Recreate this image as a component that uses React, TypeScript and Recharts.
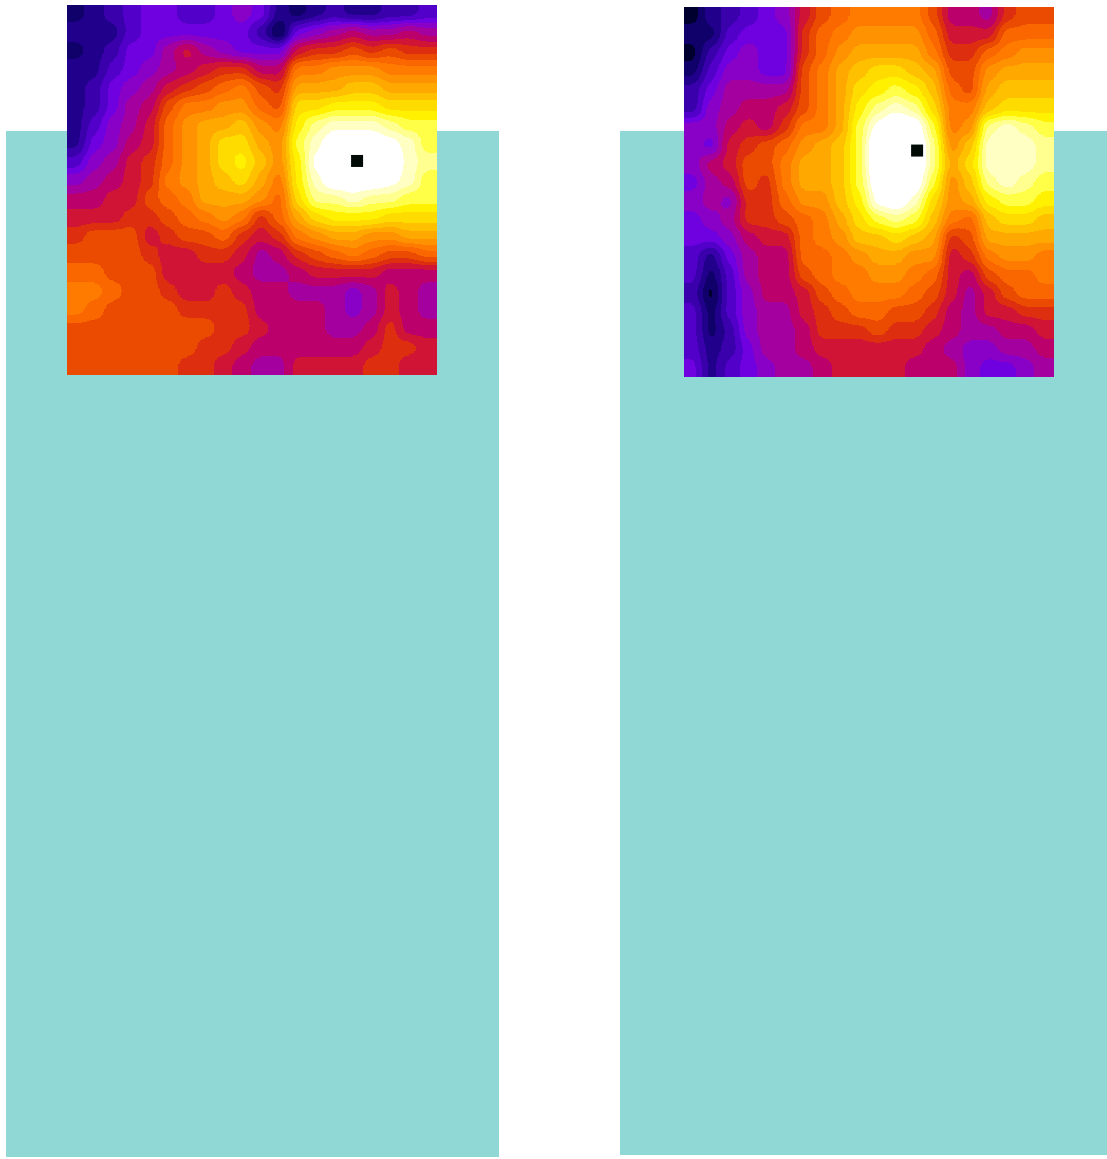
import React from 'react';
import { ScatterChart, Scatter, XAxis, YAxis } from 'recharts';

// band index per grid cell (0 = darkest, 22 and up = white)
const leftRows: number[][] = [
  [1, 2, 3, 4, 5, 5, 4, 4, 5, 6, 5, 2, 1, 2, 3, 2, 2, 3, 3, 4],
  [2, 2, 2, 4, 5, 5, 5, 5, 5, 5, 3, 0, 5, 6, 7, 8, 7, 7, 8, 7],
  [1, 2, 3, 5, 5, 7, 9, 7, 6, 5, 5, 5, 9, 10, 10, 11, 10, 11, 10, 10],
  [2, 2, 4, 5, 6, 7, 8, 9, 10, 10, 8, 8, 13, 13, 14, 14, 14, 13, 13, 13],
  [2, 3, 5, 6, 7, 9, 10, 11, 12, 13, 11, 10, 15, 15, 15, 16, 16, 15, 15, 15],
  [2, 3, 5, 7, 8, 11, 13, 13, 14, 14, 12, 11, 17, 17, 18, 18, 18, 17, 17, 17],
  [2, 4, 6, 7, 9, 12, 14, 15, 15, 16, 14, 13, 18, 20, 21, 21, 21, 20, 19, 19],
  [2, 5, 6, 8, 9, 12, 14, 15, 17, 17, 15, 14, 19, 21, 23, 23, 23, 22, 21, 19],
  [4, 6, 7, 9, 10, 12, 14, 15, 17, 18, 16, 14, 18, 22, 24, 24, 24, 23, 21, 20],
  [6, 7, 8, 9, 10, 13, 14, 15, 16, 17, 15, 13, 18, 21, 23, 23, 23, 22, 21, 19],
  [8, 8, 9, 9, 11, 12, 13, 15, 15, 15, 14, 12, 17, 20, 20, 21, 20, 20, 19, 19],
  [9, 9, 9, 10, 10, 11, 12, 13, 14, 13, 10, 12, 15, 17, 18, 18, 18, 17, 17, 17],
  [10, 11, 11, 11, 9, 10, 11, 11, 12, 10, 9, 10, 13, 14, 15, 15, 14, 14, 15, 15],
  [11, 11, 11, 11, 10, 9, 9, 10, 10, 9, 7, 8, 10, 11, 12, 13, 12, 11, 11, 12],
  [12, 12, 11, 11, 11, 9, 9, 9, 9, 8, 7, 7, 8, 9, 9, 9, 9, 8, 8, 8],
  [13, 13, 12, 11, 11, 10, 9, 9, 10, 9, 8, 8, 7, 7, 7, 6, 7, 9, 8, 7],
  [13, 12, 11, 11, 11, 11, 10, 10, 10, 10, 8, 8, 8, 8, 7, 6, 7, 9, 8, 7],
  [11, 11, 11, 11, 11, 11, 11, 11, 10, 10, 9, 8, 8, 8, 7, 7, 8, 10, 8, 8],
  [11, 11, 11, 11, 11, 11, 11, 10, 10, 9, 8, 8, 8, 8, 8, 8, 9, 10, 10, 9],
  [11, 11, 11, 11, 11, 11, 10, 10, 9, 8, 7, 7, 9, 9, 9, 9, 10, 10, 9, 9],
];

const rightRows: number[][] = [
  [0, 2, 3, 4, 5, 6, 9, 11, 12, 13, 13, 13, 13, 11, 8, 8, 7, 10, 11, 11],
  [1, 1, 4, 5, 5, 5, 10, 12, 13, 14, 14, 14, 14, 12, 9, 9, 9, 12, 12, 12],
  [0, 3, 5, 6, 5, 5, 10, 12, 14, 15, 15, 15, 15, 13, 10, 10, 12, 13, 14, 14],
  [1, 4, 6, 6, 5, 5, 11, 13, 15, 16, 17, 17, 16, 15, 11, 11, 14, 15, 15, 15],
  [3, 5, 7, 7, 7, 7, 11, 13, 15, 17, 18, 19, 18, 16, 12, 11, 15, 16, 16, 16],
  [3, 6, 7, 8, 8, 9, 11, 13, 15, 18, 20, 21, 20, 17, 13, 13, 16, 17, 17, 17],
  [6, 6, 8, 9, 8, 10, 13, 13, 15, 19, 22, 24, 23, 19, 13, 14, 20, 21, 20, 19],
  [6, 5, 9, 10, 11, 12, 14, 15, 16, 19, 24, 25, 24, 20, 14, 16, 21, 21, 21, 20],
  [6, 8, 9, 11, 11, 13, 15, 15, 16, 19, 24, 25, 24, 20, 15, 17, 21, 21, 21, 20],
  [5, 7, 8, 11, 10, 13, 15, 15, 16, 19, 23, 25, 23, 19, 14, 16, 20, 21, 20, 19],
  [6, 7, 6, 10, 10, 12, 14, 14, 16, 18, 22, 23, 21, 17, 14, 15, 18, 19, 19, 18],
  [5, 6, 7, 10, 10, 11, 12, 13, 15, 17, 19, 20, 19, 16, 13, 12, 16, 17, 17, 16],
  [5, 5, 6, 8, 9, 9, 12, 13, 14, 16, 16, 17, 16, 15, 10, 11, 15, 15, 15, 15],
  [4, 2, 5, 7, 8, 8, 12, 12, 13, 14, 15, 15, 14, 14, 9, 10, 13, 14, 14, 13],
  [4, 1, 4, 7, 8, 8, 11, 12, 13, 13, 14, 14, 13, 12, 9, 8, 11, 12, 12, 13],
  [3, 0, 4, 6, 8, 8, 9, 11, 12, 13, 13, 13, 12, 11, 9, 7, 9, 11, 12, 12],
  [4, 1, 4, 6, 7, 7, 9, 10, 11, 12, 12, 11, 11, 10, 8, 7, 9, 9, 10, 10],
  [4, 1, 3, 6, 7, 7, 8, 10, 10, 10, 11, 10, 10, 9, 8, 7, 7, 8, 8, 9],
  [4, 2, 3, 5, 7, 7, 8, 9, 9, 9, 9, 9, 9, 8, 7, 6, 6, 7, 7, 8],
  [5, 2, 4, 5, 6, 7, 7, 8, 9, 9, 9, 9, 8, 8, 8, 6, 5, 5, 6, 7],
];

const leftPeak = [{ x: 15.68, y: 8.43 }];
const rightPeak = [{ x: 12.6, y: 7.76 }];

const bandColors = [
  '#000030', '#10006a', '#22008c', '#3a00ac', '#5200ca', '#7000e0', '#8a00c8', '#a400a0',
  '#bc006c', '#cf1535', '#dd3010', '#ec4c00', '#fb6600', '#ff7c00', '#ff9200', '#ffa800',
  '#ffc000', '#ffdc00', '#fff200', '#ffff48', '#ffff90', '#ffffc4', '#ffffff', '#ffffff',
  '#ffffff', '#ffffff',
];

const GRID = 20;
const PAD = 24;
const MAP_SIZE = 370;
const CELL = MAP_SIZE / GRID;

const toPoints = (rows: number[][]) =>
  rows.flatMap((row, r) => row.map((band, c) => ({ x: c + 0.5, y: r + 0.5, band, r, c })));

const channel = (i: number) =>
  bandColors.map(c => (parseInt(c.slice(1 + i * 2, 3 + i * 2), 16) / 255).toFixed(3)).join(' ');

// gray level per cell; the svg filter below blurs it and turns it into colour bands
const HeatCell = (props: any) => {
  const { cx, cy, payload } = props;
  const level = Math.round(((payload.band + 0.5) / bandColors.length) * 255);
  const x0 = cx - CELL / 2 - 0.5 - (payload.c === 0 ? PAD : 0);
  const y0 = cy - CELL / 2 - 0.5 - (payload.r === 0 ? PAD : 0);
  const x1 = cx + CELL / 2 + 0.5 + (payload.c === GRID - 1 ? PAD : 0);
  const y1 = cy + CELL / 2 + 0.5 + (payload.r === GRID - 1 ? PAD : 0);
  return <rect x={x0} y={y0} width={x1 - x0} height={y1 - y0} fill={`rgb(${level},${level},${level})`} />;
};

const PeakMark = (props: any) => (
  <rect x={props.cx - 6} y={props.cy - 6} width={12} height={12} fill="#020a06" />
);

const HeatMap: React.FC<{ rows: number[][]; peak: { x: number; y: number }[]; left: number; top: number }> = ({
  rows,
  peak,
  left,
  top,
}) => (
  <div style={{ position: 'absolute', left, top, width: MAP_SIZE, height: MAP_SIZE, overflow: 'hidden' }}>
    <div style={{ position: 'absolute', left: -PAD, top: -PAD }}>
      <ScatterChart
        width={MAP_SIZE + PAD * 2}
        height={MAP_SIZE + PAD * 2}
        margin={{ top: PAD, right: PAD, bottom: PAD, left: PAD }}
      >
        <XAxis type="number" dataKey="x" domain={[0, GRID]} hide />
        <YAxis type="number" dataKey="y" domain={[0, GRID]} reversed hide />
        <Scatter className="heat-field" data={toPoints(rows)} shape={HeatCell} isAnimationActive={false} />
        <Scatter data={peak} shape={PeakMark} isAnimationActive={false} />
      </ScatterChart>
    </div>
  </div>
);

const App: React.FC = () => (
  <div style={{ position: 'absolute', left: 0, top: 0, width: 1107, height: 1159, background: '#fff', overflow: 'hidden' }}>
    <style>{`.heat-field { filter: url(#heatBands); }`}</style>
    <svg width={0} height={0} style={{ position: 'absolute' }}>
      <defs>
        <filter id="heatBands" colorInterpolationFilters="sRGB" x="-5%" y="-5%" width="110%" height="110%">
          <feGaussianBlur stdDeviation={6} />
          <feComponentTransfer>
            <feFuncR type="discrete" tableValues={channel(0)} />
            <feFuncG type="discrete" tableValues={channel(1)} />
            <feFuncB type="discrete" tableValues={channel(2)} />
          </feComponentTransfer>
          <feGaussianBlur stdDeviation={0.7} />
        </filter>
      </defs>
    </svg>
    <div style={{ position: 'absolute', left: 6, top: 131, width: 493, height: 1026, background: '#8fd8d6' }} />
    <div style={{ position: 'absolute', left: 620, top: 131, width: 487, height: 1024, background: '#8fd8d6' }} />
    <HeatMap rows={leftRows} peak={leftPeak} left={67} top={5} />
    <HeatMap rows={rightRows} peak={rightPeak} left={684} top={7} />
  </div>
);

export default App;
